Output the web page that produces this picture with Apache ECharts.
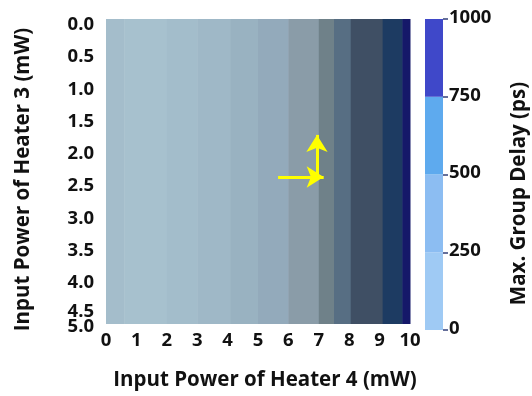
<!DOCTYPE html>
<html><head><meta charset="utf-8">
<script src="https://cdn.jsdelivr.net/npm/echarts@6/dist/echarts.min.js"></script>
<style>html,body{margin:0;padding:0;background:#fff}#c{width:532px;height:396px}</style>
</head><body><div id="c"></div>
<script>
// ---- data ----
// filled-contour band boundaries along Heater 4 power (mW); bands run across all Heater 3 values
const bandEdges = [0, 0.6, 2, 3, 4.1, 5, 6, 7, 7.5, 8.05, 9.1, 9.75, 10];
// x ticks / y tick labels
const xTicks = [0,1,2,3,4,5,6,7,8,9,10];
const yTickLabels = ['0.0','0.5','1.0','1.5','2.0','2.5','3.0','3.5','4.0','4.5','5.0'];
// colour bar levels (ps)
const cbLevels = [0, 250, 500, 750, 1000];
// annotation arrows [from, to] in (Heater 4, Heater 3) mW
const arrows = [[[5.66, 2.59],[7.16, 2.59]], [[6.94, 2.59],[6.94, 1.9]]];

// ---- styles ----
const bandPalette = ['#a4bdcb','#a7c1ce','#a3bdcb','#9fb8c7','#99b2c1','#93aabb','#8a9ca8','#6f8189','#576e83','#3f4f64','#1d3b62','#151869'];
const cbPalette = ['#9fcaf4','#8cbdf2','#5eaaee','#3f48c9'];
// where the (hand-placed) y tick labels sit on the label axis
const yLabelAxisMin = -0.093, yLabelAxisMax = 4.64;
const yLabelSpots = [0,0.5,1,1.5,2,2.5,3,3.5,4,4.45];

const FONT = '"Open Sans", "Noto Sans", sans-serif';
const TICK_FS = 18.5, TITLE_FS = 20.5;
const bandData = bandEdges.slice(0, -1).map((e, i) => [e, bandEdges[i+1], i]);
const cbData = cbLevels.slice(1).map((v, i) => v - cbLevels[i]);
const labelStyle = {color: '#111', fontSize: TICK_FS, fontWeight: 'bold', fontFamily: FONT};
const titleStyle = {color: '#111', fontSize: TITLE_FS, fontWeight: 'bold', fontFamily: FONT};

const chart = echarts.init(document.getElementById('c'), null, {renderer: 'canvas'});
chart.setOption({
  animation: false,
  backgroundColor: '#fff',
  grid: [
    {left: 106, top: 19, width: 304, height: 305},
    {left: 425, top: 19, width: 18, height: 311}
  ],
  xAxis: [
    {type: 'value', gridIndex: 0, min: 0, max: 10, interval: 1,
     axisLine: {show: false},
     axisTick: {show: true, inside: true, length: 5, lineStyle: {color: 'rgba(255,255,255,0.45)'}},
     splitLine: {show: false},
     axisLabel: Object.assign({margin: 7, formatter: v => xTicks.includes(v) ? String(v) : ''}, labelStyle),
     name: 'Input Power of Heater 4 (mW)', nameLocation: 'middle', nameGap: 46,
     nameTextStyle: Object.assign({padding: [0, 0, 0, 14]}, titleStyle)},
    {type: 'category', gridIndex: 1, data: [''], show: false}
  ],
  yAxis: [
    {type: 'value', gridIndex: 0, min: 0, max: 5, interval: 0.5, inverse: true, position: 'right',
     axisLine: {show: false}, axisLabel: {show: false}, splitLine: {show: false},
     axisTick: {show: true, inside: true, length: 5, lineStyle: {color: 'rgba(255,255,255,0.7)'}}},
    {type: 'value', gridIndex: 0, min: yLabelAxisMin, max: yLabelAxisMax, inverse: true, position: 'left',
     axisLine: {show: false}, axisTick: {show: false}, splitLine: {show: false},
     axisLabel: Object.assign({margin: 12, customValues: yLabelSpots,
       formatter: v => { let best = 0, d = 1e9; yLabelSpots.forEach((s, i) => { if (Math.abs(s - v) < d) { d = Math.abs(s - v); best = i; } }); return yTickLabels[best]; }}, labelStyle),
     name: 'Input Power of Heater 3 (mW)', nameLocation: 'middle', nameGap: 72, nameRotate: 90,
     nameTextStyle: Object.assign({padding: [0, 16, 0, 0]}, titleStyle)},
    {type: 'value', gridIndex: 0, min: 0, max: 5, inverse: true, position: 'left', offset: 0,
     axisLine: {show: false}, axisTick: {show: false}, splitLine: {show: false},
     axisLabel: Object.assign({margin: 12, customValues: [5], verticalAlign: 'top', padding: [-7, 0, 0, 0],
       formatter: () => yTickLabels[yTickLabels.length - 1]}, labelStyle)},
    {type: 'value', gridIndex: 1, min: cbLevels[0], max: cbLevels[cbLevels.length-1], interval: 250, position: 'right',
     axisLine: {show: false}, splitLine: {show: false},
     axisTick: {show: true, length: 5, lineStyle: {color: '#33407a', width: 1.5}},
     axisLabel: Object.assign({margin: 6, verticalAlign: 'bottom', padding: [0, 0, -8, 0], formatter: v => String(v)}, labelStyle),
     name: 'Max. Group Delay (ps)', nameLocation: 'middle', nameGap: 66, nameRotate: 90,
     nameTextStyle: Object.assign({padding: [0, 38, 0, 0]}, titleStyle)}
  ],
  series: [
    {type: 'custom', xAxisIndex: 0, yAxisIndex: 0, data: bandData, silent: true,
     renderItem: (params, api) => {
       const p0 = api.coord([api.value(0), 0]);
       const p1 = api.coord([api.value(1), 5]);
       return {type: 'rect', shape: {x: p0[0], y: p0[1], width: p1[0] - p0[0] + 0.5, height: p1[1] - p0[1]},
               style: {fill: bandPalette[api.value(2)]}};
     }},
    {type: 'line', xAxisIndex: 0, yAxisIndex: 0, data: [], silent: true,
     markLine: {silent: true, symbol: ['none', 'arrow'], symbolSize: [16, 17], label: {show: false},
       lineStyle: {color: '#ffff00', width: 3, type: 'solid'},
       emphasis: {disabled: true},
       data: arrows.map(a => [{coord: a[0]}, {coord: a[1]}])}},
    ...cbData.map((v, i) => ({type: 'bar', xAxisIndex: 1, yAxisIndex: 3, stack: 'cb', barWidth: '100%',
       data: [v], silent: true, itemStyle: {color: cbPalette[i]}}))
  ]
});
</script></body></html>
